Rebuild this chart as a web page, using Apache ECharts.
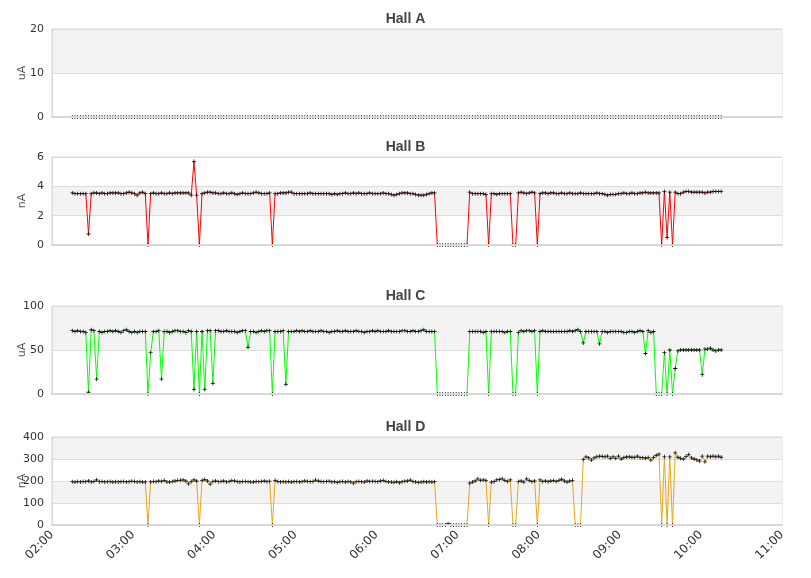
<!DOCTYPE html>
<html>
<head>
<meta charset="utf-8">
<title>Hall currents</title>
<script src="https://cdn.jsdelivr.net/npm/echarts@6/dist/echarts.min.js"></script>
<style>
    html, body { margin: 0; padding: 0; background: #fff; }
    #main { width: 811px; height: 578px; }
</style>
</head>
<body>
<div id="main"></div>
<script>
// samples every 2 minutes, from 02:15 to 10:15
var startHour = 2.25;
var stepHour = 2 / 60;

var hallNames = ['Hall A', 'Hall B', 'Hall C', 'Hall D'];
var hallUnits = ['uA', 'nA', 'uA', 'nA'];
var hourTicks = [2, 3, 4, 5, 6, 7, 8, 9, 10, 11];

var hallA = [
    0, 0, 0, 0, 0, 0, 0, 0, 0, 0,
    0, 0, 0, 0, 0, 0, 0, 0, 0, 0,
    0, 0, 0, 0, 0, 0, 0, 0, 0, 0,
    0, 0, 0, 0, 0, 0, 0, 0, 0, 0,
    0, 0, 0, 0, 0, 0, 0, 0, 0, 0,
    0, 0, 0, 0, 0, 0, 0, 0, 0, 0,
    0, 0, 0, 0, 0, 0, 0, 0, 0, 0,
    0, 0, 0, 0, 0, 0, 0, 0, 0, 0,
    0, 0, 0, 0, 0, 0, 0, 0, 0, 0,
    0, 0, 0, 0, 0, 0, 0, 0, 0, 0,
    0, 0, 0, 0, 0, 0, 0, 0, 0, 0,
    0, 0, 0, 0, 0, 0, 0, 0, 0, 0,
    0, 0, 0, 0, 0, 0, 0, 0, 0, 0,
    0, 0, 0, 0, 0, 0, 0, 0, 0, 0,
    0, 0, 0, 0, 0, 0, 0, 0, 0, 0,
    0, 0, 0, 0, 0, 0, 0, 0, 0, 0,
    0, 0, 0, 0, 0, 0, 0, 0, 0, 0,
    0, 0, 0, 0, 0, 0, 0, 0, 0, 0,
    0, 0, 0, 0, 0, 0, 0, 0, 0, 0,
    0, 0, 0, 0, 0, 0, 0, 0, 0, 0,
    0, 0, 0, 0, 0, 0, 0, 0, 0, 0,
    0, 0, 0, 0, 0, 0, 0, 0, 0, 0,
    0, 0, 0, 0, 0, 0, 0, 0, 0, 0,
    0, 0, 0, 0, 0, 0, 0, 0, 0, 0,
    0
];

var hallB = [
    3.55, 3.5, 3.5, 3.5, 3.5, 3.5, 0.75, 3.5, 3.55, 3.55,
    3.5, 3.55, 3.5, 3.5, 3.55, 3.55, 3.55, 3.55, 3.5, 3.5,
    3.55, 3.6, 3.55, 3.5, 3.4, 3.55, 3.6, 3.5, 0, 3.5,
    3.55, 3.5, 3.5, 3.55, 3.5, 3.5, 3.55, 3.5, 3.55, 3.55,
    3.55, 3.55, 3.55, 3.55, 3.4, 5.7, 3.4, 0, 3.5, 3.55,
    3.6, 3.6, 3.55, 3.55, 3.5, 3.5, 3.55, 3.5, 3.5, 3.55,
    3.5, 3.45, 3.5, 3.55, 3.5, 3.5, 3.5, 3.55, 3.6, 3.55,
    3.5, 3.5, 3.5, 3.55, 0, 3.5, 3.5, 3.55, 3.55, 3.55,
    3.6, 3.6, 3.5, 3.5, 3.5, 3.5, 3.5, 3.5, 3.55, 3.5,
    3.5, 3.5, 3.5, 3.5, 3.5, 3.5, 3.45, 3.5, 3.45, 3.5,
    3.5, 3.55, 3.5, 3.5, 3.55, 3.5, 3.55, 3.5, 3.5, 3.5,
    3.55, 3.5, 3.5, 3.5, 3.5, 3.55, 3.5, 3.5, 3.45, 3.4,
    3.45, 3.5, 3.55, 3.55, 3.55, 3.5, 3.5, 3.45, 3.4, 3.4,
    3.4, 3.45, 3.5, 3.55, 3.55, 0, 0, 0, 0, 0,
    0, 0, 0, 0, 0, 0, 0, 3.6, 3.5, 3.5,
    3.5, 3.5, 3.5, 3.45, 0, 3.5, 3.5, 3.45, 3.5, 3.5,
    3.5, 3.5, 3.5, 0, 0, 3.55, 3.6, 3.55, 3.5, 3.55,
    3.6, 3.55, 0, 3.5, 3.55, 3.55, 3.5, 3.55, 3.55, 3.5,
    3.5, 3.55, 3.5, 3.5, 3.55, 3.5, 3.5, 3.5, 3.55, 3.5,
    3.5, 3.5, 3.5, 3.5, 3.55, 3.5, 3.5, 3.45, 3.4, 3.45,
    3.45, 3.45, 3.5, 3.5, 3.55, 3.5, 3.5, 3.55, 3.5, 3.5,
    3.55, 3.55, 3.6, 3.55, 3.55, 3.55, 3.55, 3.55, 0, 3.65,
    0.5, 3.6, 0, 3.6, 3.5, 3.5, 3.6, 3.65, 3.65, 3.6,
    3.6, 3.6, 3.6, 3.6, 3.55, 3.6, 3.6, 3.65, 3.65, 3.65,
    3.65
];

var hallC = [
    72, 71, 72, 71, 71, 70, 2, 73, 72, 17,
    71, 70, 71, 71, 72, 71, 72, 71, 70, 72,
    73, 71, 70, 71, 70, 71, 71, 71, 0, 47,
    71, 71, 72, 17, 71, 71, 70, 71, 72, 72,
    71, 71, 70, 72, 71, 5, 71, 0, 71, 5,
    72, 72, 12, 72, 72, 71, 71, 72, 71, 71,
    71, 70, 71, 72, 72, 53, 71, 71, 70, 71,
    72, 71, 72, 72, 0, 71, 71, 71, 72, 11,
    71, 71, 71, 72, 71, 72, 71, 71, 72, 71,
    71, 71, 72, 71, 71, 70, 71, 71, 72, 71,
    71, 72, 71, 71, 71, 72, 71, 71, 70, 71,
    71, 72, 71, 72, 71, 71, 71, 72, 71, 71,
    71, 71, 72, 72, 71, 71, 72, 71, 71, 72,
    73, 71, 71, 71, 71, 0, 0, 0, 0, 0,
    0, 0, 0, 0, 0, 0, 0, 71, 71, 71,
    71, 71, 70, 71, 0, 71, 71, 71, 71, 71,
    70, 71, 71, 0, 0, 70, 72, 71, 72, 72,
    71, 72, 0, 71, 72, 71, 71, 71, 71, 71,
    71, 71, 71, 71, 72, 71, 72, 73, 71, 58,
    71, 71, 71, 71, 71, 57, 71, 71, 70, 71,
    71, 71, 71, 71, 70, 70, 71, 71, 70, 71,
    72, 71, 46, 72, 70, 71, 0, 0, 0, 47,
    0, 50, 0, 29, 49, 50, 50, 50, 50, 50,
    50, 50, 50, 22, 51, 51, 52, 50, 49, 50,
    50
];

var hallD = [
    197, 195, 198, 196, 198, 197, 200, 196, 198, 205,
    197, 198, 196, 197, 198, 195, 197, 196, 197, 198,
    196, 197, 199, 198, 196, 197, 195, 196, 0, 196,
    198, 197, 200, 198, 203, 196, 195, 198, 200, 203,
    203, 205, 200, 187, 198, 205, 200, 0, 203, 207,
    200, 186, 198, 200, 197, 198, 200, 196, 198, 202,
    200, 197, 196, 198, 198, 197, 196, 195, 198, 197,
    198, 200, 197, 199, 0, 203, 198, 196, 197, 196,
    198, 195, 197, 198, 196, 197, 200, 198, 197, 198,
    204, 200, 198, 197, 198, 199, 196, 197, 193, 197,
    198, 195, 198, 196, 190, 197, 198, 197, 195, 200,
    198, 199, 198, 197, 200, 203, 198, 196, 195, 194,
    197, 192, 197, 199, 200, 204, 198, 196, 193, 195,
    197, 195, 197, 195, 197, 0, 0, 0, 0, 6,
    0, 0, 0, 0, 0, 0, 0, 190, 195, 200,
    210, 203, 205, 203, 0, 195, 197, 205, 207, 210,
    203, 198, 205, 0, 0, 198, 200, 195, 210, 202,
    197, 200, 0, 205, 198, 200, 197, 200, 202, 198,
    203, 208, 200, 195, 200, 203, 0, 0, 0, 298,
    310, 305, 295, 305, 310, 313, 312, 310, 313, 303,
    310, 303, 313, 300, 306, 309, 310, 308, 307, 313,
    306, 306, 303, 307, 295, 307, 317, 322, 0, 310,
    0, 310, 0, 328, 308, 303, 300, 311, 320, 305,
    300, 296, 291, 313, 287, 313, 310, 313, 310, 313,
    308
];

var hallData = [hallA, hallB, hallC, hallD];
var yMax = [20, 6, 100, 400];
var yStep = [10, 2, 50, 100];
var lineColors = ['#000000', '#ff0000', '#00ff00', '#e8a61c'];
var gridTops = [29, 157, 306, 437];

var plusMark = 'path://M2,0H3V2H5V3H3V5H2V3H0V2H2Z';

function toPoints(values) {
    return values.map(function (v, i) {
        return [startHour + i * stepHour, v];
    });
}

function hourLabel(v) {
    var h = Math.round(v);
    return (h < 10 ? '0' : '') + h + ':00';
}

var myChart = echarts.init(document.getElementById('main'));

var option = {
    animation: false,
    backgroundColor: '#fff',
    title: [],
    grid: [],
    xAxis: [],
    yAxis: [],
    series: []
};

for (var k = 0; k < 4; k++) {
    option.title.push({
        text: hallNames[k],
        left: 'center',
        top: gridTops[k] - 22,
        textStyle: {
            fontFamily: 'Liberation Sans',
            fontSize: 14,
            fontWeight: 'bold',
            color: '#444'
        }
    });
    option.grid.push({
        left: 52,
        right: 29,
        top: gridTops[k],
        height: 88,
        containLabel: false,
        outerBoundsMode: 'none',
        show: true,
        borderColor: '#d8d8d8',
        borderWidth: 1
    });
    option.xAxis.push({
        type: 'value',
        gridIndex: k,
        min: hourTicks[0],
        max: hourTicks[hourTicks.length - 1],
        interval: 1,
        z: 5,
        axisLine: { show: true, lineStyle: { color: '#d8d8d8', width: 2 } },
        axisTick: { show: false },
        splitLine: { show: false },
        axisLabel: {
            show: k === 3,
            rotate: 45,
            margin: 8,
            formatter: hourLabel,
            fontFamily: 'DejaVu Sans',
            fontSize: 12,
            color: '#333'
        }
    });
    option.yAxis.push({
        type: 'value',
        gridIndex: k,
        min: 0,
        max: yMax[k],
        interval: yStep[k],
        name: hallUnits[k],
        nameLocation: 'middle',
        nameGap: 24,
        nameMoveOverlap: false,
        nameTextStyle: { fontFamily: 'DejaVu Sans', fontSize: 11, color: '#555' },
        axisLine: { show: true, lineStyle: { color: '#d8d8d8' } },
        axisTick: { show: false },
        axisLabel: { fontFamily: 'DejaVu Sans', fontSize: 11, color: '#333', margin: 8 },
        splitLine: { show: true, lineStyle: { color: '#dddddd' } },
        splitArea: { show: true, areaStyle: { color: ['#ffffff', '#f3f3f3'] } }
    });
    option.series.push({
        name: hallNames[k],
        type: 'line',
        xAxisIndex: k,
        yAxisIndex: k,
        data: toPoints(hallData[k]),
        showSymbol: true,
        showAllSymbol: true,
        symbol: plusMark,
        symbolSize: 4,
        itemStyle: { color: '#111' },
        lineStyle: { color: lineColors[k], width: 1 },
        z: 2
    });
}

myChart.setOption(option);
</script>
</body>
</html>
